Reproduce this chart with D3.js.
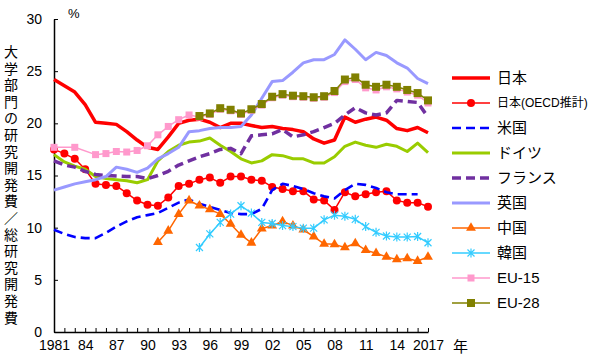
<!DOCTYPE html>
<html><head><meta charset="utf-8">
<script src="https://cdn.jsdelivr.net/npm/d3@7"></script>
<style>
body{margin:0;background:#fff}
svg{display:block}
text{font-family:"Liberation Sans","Noto Sans CJK JP",sans-serif;fill:#000}
</style>
</head><body>
<svg id="chart" width="600" height="360"></svg>
<script>
// ---------- data ----------
const years = d3.range(1981, 2018);
const xTickYears = [1981,1984,1987,1990,1993,1996,1999,2002,2005,2008,2011,2014,2017];
const xTickLabels = ["1981","84","87","90","93","96","99","02","05","08","11","14","2017"];
const yTicks = [0,5,10,15,20,25,30];
const seriesNames = ["日本","日本(OECD推計)","米国","ドイツ","フランス","英国","中国","韓国","EU-15","EU-28"];
const yTitle = "大学部門の研究開発費／総研究開発費";

const japan = [24.2,23.6,23.0,21.8,20.1,20.0,19.9,19.2,18.4,17.7,17.5,18.7,20.0,20.3,20.4,20.1,19.6,20.0,20.0,19.8,19.6,19.7,19.5,19.4,19.2,18.5,18.1,18.4,20.6,20.1,20.4,20.6,20.3,19.5,19.3,19.6,19.1];
const japanOECD = [17.5,17.1,16.6,15.6,14.2,14.1,14.0,13.3,12.6,12.2,12.1,12.9,14.0,14.2,14.6,14.8,14.3,14.9,14.9,14.6,14.5,13.9,13.7,13.5,13.5,12.7,12.6,11.7,13.4,13.0,13.2,13.4,13.5,12.6,12.4,12.4,12.0];
const usa = [9.8,9.4,9.1,9.0,9.0,9.5,10.1,10.6,11.0,11.2,11.4,11.9,12.4,12.7,12.3,12.0,11.7,11.4,11.3,11.3,11.8,13.6,14.2,14.0,13.7,13.3,13.0,12.8,13.6,14.2,14.1,13.8,13.4,13.2,13.2,13.2,null];
const germany = [17.0,16.3,15.9,15.6,14.9,14.7,14.6,14.5,14.3,14.6,16.4,17.3,17.9,18.2,18.3,18.6,17.9,17.3,16.6,16.2,16.4,17.0,16.9,16.6,16.6,16.2,16.2,16.8,17.8,18.2,17.9,17.7,18.0,17.8,17.3,18.1,17.2];
const france = [16.4,16.0,15.8,15.4,15.1,15.0,14.95,14.9,14.9,14.7,15.0,15.4,16.0,16.4,16.8,17.1,17.5,17.6,17.1,18.8,18.9,19.0,19.4,18.7,18.9,19.2,19.6,20.0,20.8,21.5,21.0,20.8,21.0,22.2,22.1,22.0,20.6];
const uk = [13.6,13.9,14.2,14.4,14.6,14.9,15.8,15.6,15.3,15.7,16.6,17.1,17.7,19.2,19.3,19.5,19.6,19.6,19.7,20.8,22.4,24.0,24.1,24.9,25.8,26.1,26.1,26.6,28.0,27.1,26.1,26.8,26.5,25.8,25.3,24.3,23.8];
const china = [null,null,null,null,null,null,null,null,null,null,8.6,9.7,11.3,12.6,12.1,11.75,11.3,10.35,9.3,8.55,9.9,10.2,10.6,10.2,9.8,9.15,8.45,8.4,8.1,8.5,7.85,7.55,7.2,6.95,7.05,6.8,7.2];
const korea = [null,null,null,null,null,null,null,null,null,null,null,null,null,null,8.1,9.4,10.5,11.3,12.1,11.4,10.5,10.4,10.2,10.1,9.95,9.95,10.75,11.2,11.1,10.8,10.1,9.55,9.2,9.1,9.1,9.15,8.55];
const eu15 = [17.7,null,17.7,null,17.0,17.1,17.3,17.25,17.4,17.85,18.9,19.7,20.35,20.8,20.6,20.85,21.35,21.2,20.85,21.25,21.75,22.45,22.7,22.55,22.5,22.4,22.5,22.95,24.0,24.2,23.4,23.2,23.5,23.3,23.0,22.7,21.95];
const eu28 = [null,null,null,null,null,null,null,null,null,null,null,null,null,null,20.7,20.95,21.45,21.3,20.95,21.35,21.85,22.55,22.8,22.65,22.6,22.5,22.6,23.1,24.2,24.4,23.7,23.5,23.7,23.5,23.2,22.9,22.2];

const seriesValues = [japan, japanOECD, usa, germany, france, uk, china, korea, eu15, eu28];

// ---------- styles ----------
const styles = [
  {color:"#ff0000", width:3.5, dash:null, marker:null},
  {color:"#ff0000", width:1.5, dash:null, marker:"circle"},
  {color:"#0000ff", width:2.6, dash:"9,5", marker:null},
  {color:"#99cc00", width:3, dash:null, marker:null},
  {color:"#7030a0", width:3.5, dash:"9,5", marker:null},
  {color:"#9999ff", width:3, dash:null, marker:null},
  {color:"#ff6600", width:1.5, dash:null, marker:"triangle"},
  {color:"#33ccff", width:1.5, dash:null, marker:"star"},
  {color:"#ff99cc", width:1.5, dash:null, marker:"square", size:7},
  {color:"#808000", width:1.5, dash:null, marker:"square", size:8}
];

const svg = d3.select("#chart");
const x = d3.scaleLinear().domain([1981, 2017]).range([54, 428]);
const y = d3.scaleLinear().domain([0, 30]).range([332, 19]);

// axes
const yAxis = d3.axisLeft(y).tickValues(yTicks).tickSize(-4).tickSizeOuter(0).tickPadding(12);
const gy = svg.append("g").attr("transform","translate(54,0)").call(yAxis);
gy.selectAll("text").style("font-size","14px");
gy.select(".domain").attr("stroke","#000").attr("stroke-width",1.5);
gy.selectAll(".tick line").attr("stroke","#000").attr("stroke-width",1);

const labelMap = new Map(xTickYears.map((v,i)=>[v, xTickLabels[i]]));
const xAxis = d3.axisBottom(x).tickValues(years).tickSize(-4).tickSizeOuter(0).tickPadding(8)
  .tickFormat(v => labelMap.has(v) ? labelMap.get(v) : "");
const gx = svg.append("g").attr("transform","translate(0,332)").call(xAxis);
gx.selectAll("text").style("font-size","14px");
gx.select(".domain").attr("stroke","#000").attr("stroke-width",1.5);
gx.selectAll(".tick line").attr("stroke","#000").attr("stroke-width",1);

// unit labels
svg.append("text").attr("x",68).attr("y",18).style("font-size","13px").text("%");
svg.append("text").attr("x",453).attr("y",352).style("font-size","15px").text("年");

// y title vertical
const chars = Array.from(yTitle);
svg.append("g").selectAll("text").data(chars).join("text")
  .attr("x",11).attr("y",(d,i)=>52 + i*16.6).attr("dy","0.35em")
  .attr("text-anchor","middle").style("font-size","14px").text(d=>d);

// marker drawing
function drawMarker(g, st, cx, cy) {
  if (st.marker === "circle") {
    g.append("circle").attr("cx",cx).attr("cy",cy).attr("r",4).attr("fill",st.color);
  } else if (st.marker === "triangle") {
    g.append("path").attr("d", d3.symbol(d3.symbolTriangle, 42)())
      .attr("transform",`translate(${cx},${cy})`).attr("fill",st.color);
  } else if (st.marker === "square") {
    const s = st.size;
    g.append("rect").attr("x",cx-s/2).attr("y",cy-s/2).attr("width",s).attr("height",s).attr("fill",st.color);
  } else if (st.marker === "star") {
    g.append("path").attr("d","M-3.5,-3.5L3.5,3.5M-3.5,3.5L3.5,-3.5M0,-4.5L0,4.5")
      .attr("transform",`translate(${cx},${cy})`).attr("stroke",st.color).attr("stroke-width",1.2).attr("fill","none");
  }
}

const line = d3.line().x(d=>x(d.year)).y(d=>y(d.value));

seriesValues.forEach((vals, i) => {
  const st = styles[i];
  const pts = years.map((yr,j)=>({year:yr, value:vals[j]})).filter(d=>d.value !== null);
  const g = svg.append("g");
  g.append("path").datum(pts).attr("d", line)
    .attr("fill","none").attr("stroke",st.color).attr("stroke-width",st.width)
    .attr("stroke-dasharray", st.dash).attr("stroke-linejoin","round");
  if (st.marker) pts.forEach(p => drawMarker(g, st, x(p.year), y(p.value)));
});

// legend
seriesNames.forEach((name, i) => {
  const st = styles[i];
  const ly = 78 + i*25;
  const g = svg.append("g");
  g.append("line").attr("x1",452).attr("x2",490).attr("y1",ly).attr("y2",ly)
    .attr("stroke",st.color).attr("stroke-width",st.width).attr("stroke-dasharray",st.dash);
  if (st.marker) drawMarker(g, st, 471, ly);
  g.append("text").attr("x",497).attr("y",ly).attr("dy","0.36em")
    .style("font-size", i===1 ? "12px" : "15px").text(name);
});
</script>
</body></html>
